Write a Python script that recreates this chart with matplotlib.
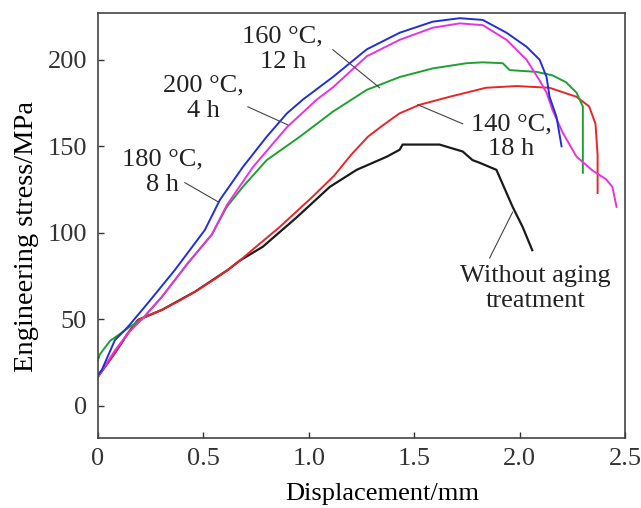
import matplotlib
matplotlib.use("Agg")
import matplotlib.pyplot as plt

plt.rcParams['font.family'] = ['Liberation Serif', 'DejaVu Serif']

# Data (displacement mm, stress MPa)
blue_x = [0.0, 0.018, 0.08, 0.142, 0.237, 0.365, 0.507, 0.578, 0.687, 0.8, 0.896, 0.972, 1.114, 1.275, 1.431, 1.588, 1.716, 1.825, 1.938, 2.033, 2.095, 2.128, 2.142, 2.175, 2.199]
blue_y = [18, 20.8, 38, 45.7, 59.5, 78.6, 101.7, 119, 138, 155.5, 169, 177, 190, 206, 215.6, 222, 224, 223, 215.6, 207.5, 200, 190, 178.6, 167, 150]

mag_x = [0.0, 0.08, 0.142, 0.208, 0.303, 0.427, 0.54, 0.611, 0.735, 0.896, 1.038, 1.114, 1.275, 1.431, 1.588, 1.716, 1.825, 1.938, 2.033, 2.095, 2.128, 2.156, 2.204, 2.27, 2.346, 2.41, 2.44, 2.46]
mag_y = [17, 32, 42, 50, 63, 82.6, 99, 116, 138, 161, 177, 184, 202, 211.5, 218.5, 221, 220, 211.5, 200, 188, 181, 171, 158, 144, 136, 131, 126.6, 115]

green_x = [0.0, 0.01, 0.057, 0.104, 0.15, 0.208, 0.303, 0.427, 0.54, 0.611, 0.687, 0.8, 0.957, 1.114, 1.275, 1.431, 1.588, 1.749, 1.825, 1.92, 1.953, 2.08, 2.156, 2.22, 2.27, 2.3, 2.3]
green_y = [26.6, 30, 37.6, 41.6, 45.7, 50, 63, 82.6, 99, 115, 126.6, 142, 155.5, 170, 182.6, 190, 195, 198, 198.5, 198, 194, 193, 191, 187, 181, 173, 134.7]

red_x = [0.0, 0.08, 0.142, 0.19, 0.303, 0.389, 0.46, 0.55, 0.616, 0.673, 0.76, 0.863, 1.019, 1.12, 1.2, 1.28, 1.35, 1.43, 1.526, 1.668, 1.84, 1.986, 2.142, 2.27, 2.33, 2.36, 2.37, 2.37]
red_y = [17, 30.6, 42, 49.7, 55.5, 61, 66, 73, 78.6, 84, 93, 103.5, 121, 133, 145, 155.5, 162, 169, 174, 178.6, 183.8, 184.8, 183.8, 178.6, 173, 163, 145, 123]

black_x = [0.0, 0.08, 0.142, 0.19, 0.303, 0.46, 0.616, 0.673, 0.782, 0.943, 1.1, 1.227, 1.37, 1.431, 1.445, 1.62, 1.73, 1.777, 1.81, 1.89, 1.967, 2.014, 2.06]
black_y = [17, 30.6, 42, 49.7, 55.5, 66, 78.6, 84, 92, 109, 126.6, 136.4, 144, 148, 151, 151, 147, 142, 140.5, 136.4, 115, 103.5, 90]

labels = ["160 °C,\n12 h", "200 °C,\n4 h", "180 °C,\n8 h", "140 °C,\n18 h", "Without aging\ntreatment"]

fig = plt.figure(figsize=(6.41, 5.08), dpi=100)
ax = fig.add_axes([98/641, 1-438/508, (625-98)/641, (438-13)/508])

ax.plot(black_x, black_y, color='#1a1a1a', lw=1.6)
ax.plot(red_x, red_y, color='#e8262a', lw=1.4)
ax.plot(green_x, green_y, color='#1fa032', lw=1.4)
ax.plot(mag_x, mag_y, color='#e832e0', lw=1.4)
ax.plot(blue_x, blue_y, color='#2030d8', lw=1.4)

ax.set_xlim(0, 2.5)
ax.set_ylim(-18.5, 227)
ax.set_xticks([0, 0.5, 1.0, 1.5, 2.0, 2.5])
ax.set_xticklabels(['0', '0.5', '1.0', '1.5', '2.0', '2.5'])
ax.set_yticks([0, 50, 100, 150, 200])
ax.tick_params(direction='in', length=4, width=1, labelsize=19, colors='#333333')
ax.tick_params(axis='x', pad=7)
ax.tick_params(axis='y', pad=8)
for s in ax.spines.values():
    s.set_color('#444444')
    s.set_linewidth(1.2)

ax.set_xlabel('Displacement/mm', fontsize=19, va='center')
ax.xaxis.set_label_coords(0.539, -0.132)
ax.set_ylabel('Engineering stress/MPa', fontsize=20.5, va='center')
ax.yaxis.set_label_coords(-0.135, 0.475)

tk = dict(fontsize=19, ha='center', va='center', linespacing=1.2, color='#222222')
lc = dict(color='#444444', lw=0.8)
# 160 C, 12 h
ax.text(0.877, 206, labels[0], **tk)
ax.plot([1.114, 1.336], [205.8, 183.8], **lc)
# 200 C, 4 h
ax.text(0.498, 177.7, labels[1], **tk)
ax.plot([0.711, 0.9], [172.8, 162.4], **lc)
# 180 C, 8 h
ax.text(0.308, 135, labels[2], **tk)
ax.plot([0.412, 0.569], [129, 118], **lc)
# 140 C, 18 h
ax.text(1.962, 155.5, labels[3], **tk)
ax.plot([1.517, 1.73], [174, 163], **lc)
# Without aging treatment
ax.text(2.076, 67.9, labels[4], **tk)
ax.plot([1.858, 1.967], [85.5, 112], **lc)

fig.savefig('out.png', dpi=100)
